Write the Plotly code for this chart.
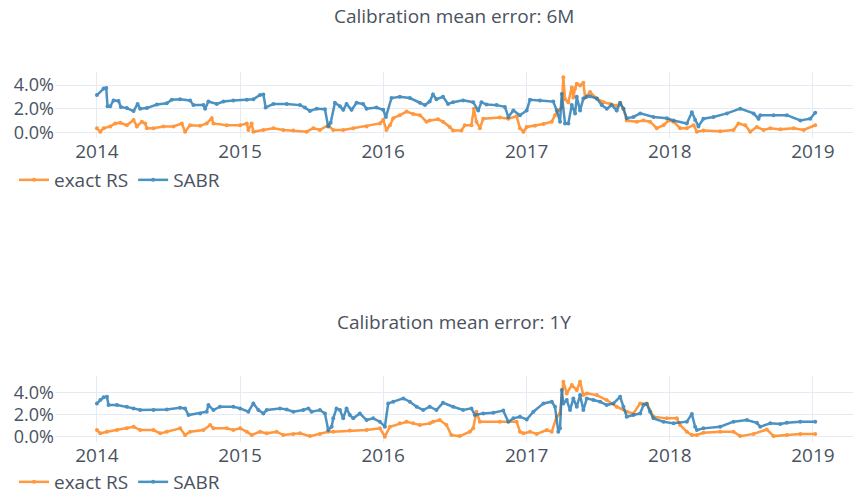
import plotly.graph_objects as go
from datetime import datetime

# ---- data (decimal year, error in %) ----
sabr_6m_t = [2014.000, 2014.047, 2014.065, 2014.074, 2014.093, 2014.116, 2014.151, 2014.167, 2014.209, 2014.256,
             2014.284, 2014.302, 2014.349, 2014.419, 2014.488, 2014.523, 2014.581, 2014.651, 2014.674, 2014.744,
             2014.756, 2014.779, 2014.837, 2014.884, 2014.953, 2015.047, 2015.093, 2015.140, 2015.163, 2015.179,
             2015.233, 2015.326, 2015.419, 2015.453, 2015.488, 2015.535, 2015.593, 2015.616, 2015.633, 2015.663,
             2015.698, 2015.721, 2015.744, 2015.779, 2015.814, 2015.860, 2015.884, 2015.953, 2016.000, 2016.019,
             2016.058, 2016.116, 2016.186, 2016.256, 2016.291, 2016.324, 2016.347, 2016.371, 2016.417, 2016.452,
             2016.487, 2016.557, 2016.627, 2016.662, 2016.685, 2016.720, 2016.790, 2016.848, 2016.872, 2016.907,
             2016.953, 2017.000, 2017.023, 2017.093, 2017.186, 2017.210, 2017.233, 2017.245, 2017.268, 2017.291,
             2017.315, 2017.338, 2017.350, 2017.373, 2017.396, 2017.420, 2017.443, 2017.490, 2017.524, 2017.560,
             2017.594, 2017.629, 2017.653, 2017.676, 2017.699, 2017.746, 2017.793, 2017.886, 2017.979, 2018.026,
             2018.119, 2018.154, 2018.177, 2018.200, 2018.235, 2018.305, 2018.399, 2018.492, 2018.585, 2018.620,
             2018.632, 2018.725, 2018.818, 2018.912, 2018.981, 2019.016]
sabr_6m_v = [3.15, 3.7, 3.75, 2.2, 2.2, 2.7, 2.65, 2.15, 2.05, 1.8,
             2.4, 2.0, 2.05, 2.35, 2.45, 2.75, 2.8, 2.7, 2.3, 2.3,
             2.0, 2.6, 2.4, 2.6, 2.7, 2.75, 2.8, 3.15, 3.2, 2.1,
             2.4, 2.4, 2.3, 2.1, 1.8, 2.0, 1.95, 0.5, 0.8, 2.5,
             2.2, 1.9, 2.4, 1.9, 2.5, 2.4, 2.0, 2.1, 1.9, 1.3,
             2.9, 3.0, 2.9, 2.5, 2.3, 2.6, 3.2, 2.8, 3.0, 2.4,
             2.55, 2.7, 2.55, 1.85, 2.55, 2.35, 2.3, 2.15, 1.3, 1.85,
             1.45, 1.85, 2.75, 2.7, 2.6, 1.85, 0.9, 3.25, 0.75, 0.75,
             2.3, 1.6, 3.0, 1.85, 2.85, 3.0, 3.05, 2.85, 2.3, 2.0,
             2.3, 1.85, 2.5, 2.0, 1.2, 1.3, 1.6, 1.3, 1.2, 1.0,
             0.75, 1.7, 1.05, 0.5, 1.15, 1.3, 1.6, 2.0, 1.6, 1.15,
             1.45, 1.45, 1.45, 1.0, 1.15, 1.65]

rs_6m_t = [2014.000, 2014.023, 2014.047, 2014.093, 2014.128, 2014.163, 2014.209, 2014.256, 2014.279, 2014.314,
           2014.337, 2014.349, 2014.395, 2014.465, 2014.535, 2014.593, 2014.616, 2014.651, 2014.721, 2014.767,
           2014.802, 2014.814, 2014.907, 2015.000, 2015.047, 2015.058, 2015.081, 2015.093, 2015.163, 2015.233,
           2015.302, 2015.372, 2015.465, 2015.512, 2015.558, 2015.616, 2015.651, 2015.721, 2015.791, 2015.884,
           2015.977, 2016.000, 2016.023, 2016.047, 2016.070, 2016.116, 2016.163, 2016.209, 2016.256, 2016.302,
           2016.324, 2016.382, 2016.417, 2016.464, 2016.487, 2016.545, 2016.569, 2016.615, 2016.632, 2016.650,
           2016.674, 2016.697, 2016.813, 2016.872, 2016.930, 2016.953, 2016.977, 2017.000, 2017.058, 2017.117,
           2017.175, 2017.198, 2017.221, 2017.245, 2017.256, 2017.268, 2017.291, 2017.315, 2017.326, 2017.338,
           2017.350, 2017.373, 2017.396, 2017.408, 2017.443, 2017.490, 2017.536, 2017.583, 2017.629, 2017.653,
           2017.676, 2017.699, 2017.769, 2017.816, 2017.862, 2017.909, 2017.956, 2017.991, 2018.026, 2018.072,
           2018.119, 2018.166, 2018.189, 2018.235, 2018.352, 2018.445, 2018.480, 2018.527, 2018.562, 2018.608,
           2018.655, 2018.702, 2018.772, 2018.865, 2018.935, 2019.016]
rs_6m_v = [0.35, 0.05, 0.35, 0.5, 0.75, 0.8, 0.6, 1.05, 0.5, 0.9,
           0.75, 0.35, 0.35, 0.5, 0.5, 0.75, 0.05, 0.6, 0.55, 0.75,
           1.2, 0.75, 0.6, 0.6, 0.75, 0.2, 0.75, 0.05, 0.2, 0.35,
           0.2, 0.15, 0.05, 0.35, 0.2, 0.6, 0.2, 0.2, 0.35, 0.5,
           0.75, 1.05, 0.2, 0.6, 1.2, 1.45, 1.75, 1.55, 1.45, 0.9,
           1.0, 1.1, 0.9, 0.45, 0.15, 0.15, 0.6, 0.6, 2.0, 0.9,
           0.35, 1.15, 1.25, 1.15, 1.35, 0.35, 0.05, 0.45, 0.55, 0.7,
           0.9, 1.45, 1.85, 2.1, 4.65, 2.8, 2.55, 3.8, 2.95, 3.7,
           4.1, 3.95, 4.2, 2.95, 3.4, 2.85, 2.55, 2.4, 2.25, 2.45,
           2.0, 1.0, 0.9, 1.0, 0.9, 0.35, 0.6, 1.0, 0.9, 0.35,
           0.35, 0.6, 0.05, 0.15, 0.1, 0.2, 0.75, 0.6, 0.05, 0.45,
           0.2, 0.35, 0.25, 0.35, 0.2, 0.6]

sabr_1y_t = [2014.000, 2014.023, 2014.047, 2014.070, 2014.081, 2014.140, 2014.209, 2014.256, 2014.302, 2014.395,
             2014.488, 2014.581, 2014.616, 2014.640, 2014.721, 2014.767, 2014.779, 2014.814, 2014.860, 2014.953,
             2015.000, 2015.058, 2015.093, 2015.128, 2015.163, 2015.186, 2015.279, 2015.326, 2015.372, 2015.442,
             2015.477, 2015.500, 2015.558, 2015.593, 2015.616, 2015.640, 2015.651, 2015.674, 2015.698, 2015.721,
             2015.744, 2015.767, 2015.791, 2015.837, 2015.884, 2015.930, 2015.977, 2016.012, 2016.035, 2016.070,
             2016.140, 2016.186, 2016.233, 2016.279, 2016.324, 2016.371, 2016.417, 2016.487, 2016.557, 2016.615,
             2016.639, 2016.697, 2016.767, 2016.837, 2016.872, 2016.907, 2016.953, 2017.000, 2017.047, 2017.117,
             2017.175, 2017.198, 2017.221, 2017.233, 2017.245, 2017.256, 2017.280, 2017.303, 2017.326, 2017.350,
             2017.373, 2017.396, 2017.420, 2017.466, 2017.513, 2017.559, 2017.606, 2017.653, 2017.676, 2017.699,
             2017.746, 2017.793, 2017.816, 2017.839, 2017.862, 2017.886, 2017.956, 2018.026, 2018.119, 2018.154,
             2018.177, 2018.189, 2018.235, 2018.352, 2018.445, 2018.539, 2018.608, 2018.632, 2018.702, 2018.772,
             2018.818, 2018.912, 2019.016]
sabr_1y_v = [3.0, 3.3, 3.55, 3.6, 2.85, 2.85, 2.7, 2.55, 2.4, 2.4,
             2.45, 2.6, 2.55, 1.95, 2.1, 2.25, 2.85, 2.4, 2.7, 2.7,
             2.55, 2.25, 3.0, 2.4, 2.1, 2.4, 2.55, 2.45, 2.25, 2.4,
             2.55, 2.25, 2.4, 2.1, 0.6, 0.9, 1.65, 2.55, 2.4, 1.65,
             2.55, 1.95, 1.65, 2.1, 1.5, 1.65, 1.35, 0.9, 3.0, 3.15,
             3.45, 3.15, 2.7, 2.4, 2.7, 2.4, 3.05, 2.7, 2.4, 2.55,
             1.95, 2.1, 2.15, 2.35, 1.35, 1.65, 1.8, 1.55, 2.25, 3.0,
             3.15, 2.7, 0.45, 0.75, 4.2, 3.0, 3.3, 2.4, 3.45, 2.7,
             3.75, 2.4, 3.45, 3.3, 3.15, 2.85, 3.0, 3.6, 2.7, 1.8,
             1.95, 2.1, 2.85, 2.95, 2.25, 1.65, 1.35, 1.2, 1.35, 2.05,
             0.9, 0.6, 0.75, 0.9, 1.35, 1.5, 1.25, 0.9, 1.2, 1.15,
             1.25, 1.35, 1.35]

rs_1y_t = [2014.000, 2014.023, 2014.070, 2014.140, 2014.209, 2014.256, 2014.302, 2014.395, 2014.442, 2014.488,
           2014.581, 2014.616, 2014.651, 2014.744, 2014.791, 2014.814, 2014.907, 2014.953, 2015.000, 2015.047,
           2015.081, 2015.140, 2015.186, 2015.256, 2015.302, 2015.372, 2015.419, 2015.488, 2015.558, 2015.616,
           2015.651, 2015.767, 2015.884, 2015.977, 2016.012, 2016.047, 2016.116, 2016.163, 2016.209, 2016.256,
           2016.326, 2016.347, 2016.394, 2016.441, 2016.475, 2016.534, 2016.604, 2016.627, 2016.650, 2016.674,
           2016.813, 2016.930, 2016.953, 2016.977, 2017.023, 2017.070, 2017.140, 2017.175, 2017.210, 2017.233,
           2017.256, 2017.280, 2017.315, 2017.350, 2017.373, 2017.396, 2017.420, 2017.490, 2017.559, 2017.629,
           2017.699, 2017.746, 2017.793, 2017.839, 2017.886, 2017.979, 2018.049, 2018.072, 2018.119, 2018.154,
           2018.189, 2018.235, 2018.352, 2018.445, 2018.492, 2018.585, 2018.678, 2018.725, 2018.818, 2018.912,
           2019.016]
rs_1y_v = [0.6, 0.3, 0.45, 0.6, 0.75, 0.9, 0.6, 0.6, 0.3, 0.45,
           0.75, 0.15, 0.45, 0.6, 1.05, 0.75, 0.75, 0.6, 0.75, 0.45,
           0.15, 0.45, 0.3, 0.45, 0.15, 0.25, 0.3, 0.05, 0.25, 0.45,
           0.45, 0.55, 0.6, 0.75, 0.0, 0.9, 1.2, 1.35, 1.2, 1.05,
           1.2, 1.35, 1.5, 1.05, 0.15, 0.05, 0.45, 0.75, 2.25, 1.35,
           1.35, 1.35, 0.45, 0.3, 0.45, 0.25, 0.6, 0.45, 1.8, 2.1,
           4.95, 3.9, 4.65, 4.2, 4.95, 3.75, 3.9, 3.75, 3.3, 2.7,
           2.25, 2.1, 3.0, 3.0, 1.8, 1.65, 1.65, 1.05, 0.45, 0.15,
           0.15, 0.35, 0.45, 0.45, 0.05, 0.25, 0.65, 0.05, 0.15, 0.25,
           0.25]

titles = ["Calibration mean error: 6M", "Calibration mean error: 1Y"]
names = ["exact RS", "SABR"]
tick_years = [2014, 2015, 2016, 2017, 2018, 2019]


def to_date(y):
    yr = int(y)
    start, end = datetime(yr, 1, 1), datetime(yr + 1, 1, 1)
    return start + (end - start) * (y - yr)


def dates(ts):
    return [to_date(t) for t in ts]


def frac(vs):
    return [v / 100 for v in vs]


ORANGE = "#ff7f0e"
BLUE = "#1f77b4"
W, H = 854, 495

fig = go.Figure()
series = [
    (rs_6m_t, rs_6m_v, names[0], ORANGE, "x", "y", "legend"),
    (sabr_6m_t, sabr_6m_v, names[1], BLUE, "x", "y", "legend"),
    (rs_1y_t, rs_1y_v, names[0], ORANGE, "x2", "y2", "legend2"),
    (sabr_1y_t, sabr_1y_v, names[1], BLUE, "x2", "y2", "legend2"),
]
for t, v, nm, col, xa, ya, lg in series:
    fig.add_trace(go.Scatter(
        x=dates(t), y=frac(v), name=nm, mode="lines+markers",
        line=dict(color=col, width=2.5), marker=dict(color=col, size=4),
        opacity=0.8, xaxis=xa, yaxis=ya, legend=lg))

FONT = dict(family="Open Sans, verdana, arial, sans-serif", size=19, color="#4a5260")
YFONT = dict(FONT, size=18)
GRID = "#E6EAF2"
xr = [to_date(2013.707), to_date(2019.28)]
tickvals = [datetime(y, 1, 1) for y in tick_years]
ticktext = [str(y) for y in tick_years]


def px_x(p):
    return p / W


def px_y(p):
    return 1 - p / H


xcommon = dict(range=xr, tickvals=tickvals, ticktext=ticktext, gridcolor=GRID, automargin=False,
               showline=False, zeroline=False, tickfont=FONT, domain=[px_x(55), px_x(853)])
ycommon = dict(tickformat=".1%", dtick=0.02, tick0=0, gridcolor=GRID, zeroline=False, automargin=False,
               showline=False, tickfont=YFONT)

fig.update_layout(
    width=W, height=H,
    template="plotly_white",
    paper_bgcolor="white", plot_bgcolor="white",
    font=FONT,
    margin=dict(l=0, r=0, t=0, b=0, autoexpand=False),
    xaxis=dict(anchor="y", **xcommon),
    yaxis=dict(anchor="x", domain=[px_y(138), px_y(72)], range=[-0.0048, 0.051], **ycommon),
    xaxis2=dict(anchor="y2", **xcommon),
    yaxis2=dict(anchor="x2", domain=[px_y(442), px_y(376)], range=[-0.0048, 0.0547], **ycommon),
    legend=dict(orientation="h", x=px_x(14), xanchor="left", y=px_y(180), yanchor="middle",
                font=FONT, bgcolor="rgba(0,0,0,0)"),
    legend2=dict(orientation="h", x=px_x(14), xanchor="left", y=px_y(482), yanchor="middle",
                 font=FONT, bgcolor="rgba(0,0,0,0)"),
    showlegend=True,
    annotations=[
        dict(text=titles[0], x=px_x(454), y=px_y(16), xref="paper", yref="paper",
             xanchor="center", yanchor="middle", showarrow=False, font=FONT),
        dict(text=titles[1], x=px_x(454), y=px_y(322), xref="paper", yref="paper",
             xanchor="center", yanchor="middle", showarrow=False, font=FONT),
    ],
)

fig.write_html("out.html", config={"displayModeBar": False},
               post_script="document.body.style.margin='0';")
